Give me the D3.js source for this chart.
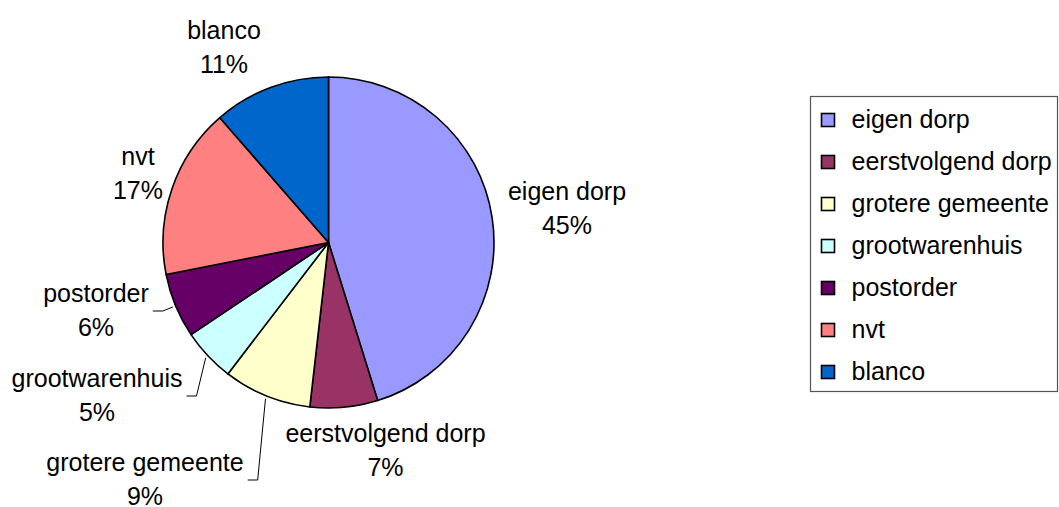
<!DOCTYPE html>
<html><head><meta charset="utf-8">
<script src="https://cdn.jsdelivr.net/npm/d3@7"></script>
<style>
html,body{margin:0;padding:0;background:#fff;}
svg{display:block;font-family:"Liberation Sans",Arial,sans-serif;}
</style></head>
<body>
<svg id="chart" width="1059" height="507"></svg>
<script>
// ---- data ----
const categories = ["eigen dorp","eerstvolgend dorp","grotere gemeente","grootwarenhuis","postorder","nvt","blanco"];
const values = [45.2, 6.6, 8.6, 5.2, 6.3, 16.7, 11.4];
const percentLabels = ["45%","7%","9%","5%","6%","17%","11%"];
const colors = ["#9999FF","#993366","#FFFFCC","#CCFFFF","#660066","#FF8080","#0066CC"];

// ---- layout (not data) ----
const W = 1059, H = 507;
const cx = 328.5, cy = 242.5, R = 165.5;
const fontSize = 25;
const lineGap = 34;
// label anchors: [centre x, first baseline]
const labelLayout = [[567,200],[385.5,442],[145,471],[97,387],[96,302],[138,165],[224,39]];
const leaderSlices = [2,3,4];

const svg = d3.select("#chart");
const pie = d3.pie().value(d=>d).sort(null);
const arcs = pie(values);
const arc = d3.arc().innerRadius(0).outerRadius(R);

const g = svg.append("g").attr("transform",`translate(${cx},${cy})`);
g.selectAll("path.slice").data(arcs).enter().append("path")
  .attr("class","slice")
  .attr("d",arc)
  .attr("fill",(d,i)=>colors[i])
  .attr("stroke","#000")
  .attr("stroke-width",1.6)
  .attr("stroke-linejoin","round");

// labels
const lab = svg.append("g");
arcs.forEach((a,i)=>{
  const [lx,ly] = labelLayout[i];
  const t = lab.append("text").attr("x",lx).attr("y",ly).attr("text-anchor","middle")
    .attr("font-size",fontSize).attr("fill","#000").text(categories[i]);
  lab.append("text").attr("x",lx).attr("y",ly+lineGap).attr("text-anchor","middle")
    .attr("font-size",fontSize).attr("fill","#000").text(percentLabels[i]);
  if (leaderSlices.includes(i)) {
    const bb = t.node().getBBox();
    const mid = (a.startAngle + a.endAngle)/2;
    const sx = cx + Math.sin(mid)*(R+3), sy = cy - Math.cos(mid)*(R+3);
    const ex = bb.x + bb.width + 14, ey = ly + 9;
    svg.append("polyline")
      .attr("points",`${sx},${sy} ${ex},${ey} ${ex-10},${ey}`)
      .attr("fill","none").attr("stroke","#000").attr("stroke-width",1);
  }
});

// legend
const lg = svg.append("g");
lg.append("rect").attr("x",810.5).attr("y",96.5).attr("width",247).attr("height",295)
  .attr("fill","#fff").attr("stroke","#555").attr("stroke-width",1.2);
const rowY = d3.scalePoint().domain(categories).range([120, 372]);
categories.forEach((c,i)=>{
  const y = rowY(c);
  lg.append("rect").attr("x",821.5).attr("y",y-6.5).attr("width",13).attr("height",13)
    .attr("fill",colors[i]).attr("stroke","#000").attr("stroke-width",1.6);
  lg.append("text").attr("x",851.5).attr("y",y+7.5).attr("font-size",fontSize).attr("fill","#000").text(c);
});
</script>
</body></html>
